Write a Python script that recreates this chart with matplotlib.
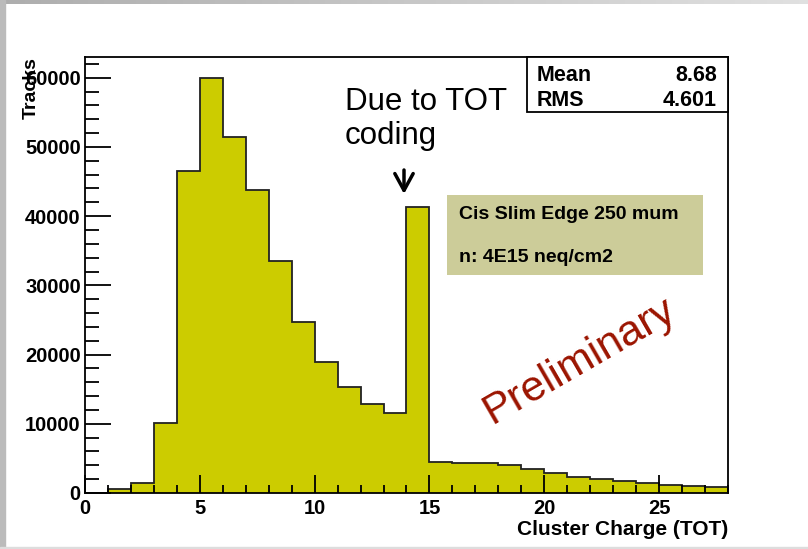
import numpy as np
import matplotlib
matplotlib.use("Agg")
import matplotlib.pyplot as plt
from matplotlib.ticker import MultipleLocator

# Cluster charge histogram, bins of width 1 TOT
bin_edges = list(range(0, 29))
counts = [0, 530, 1400, 10160, 46530, 60000, 51400, 43800, 33500, 24700,
          18900, 15300, 12860, 11560, 41300, 4520, 4290, 4380, 4050, 3420,
          2840, 2360, 2020, 1730, 1400, 1160, 1010, 820]

stat_names = ["Mean", "RMS"]
stat_values = ["8.68", "4.601"]
info_lines = ["Cis Slim Edge 250 mum", "n: 4E15 neq/cm2"]

fill_color = "#cccc00"
W, H = 808, 549

plt.rcParams["font.family"] = ["Liberation Sans", "DejaVu Sans"]

fig = plt.figure(figsize=(W / 100, H / 100), dpi=100)

# slide border (screenshot edges)
grad = np.linspace(0.68, 0.88, 256).reshape(1, -1)
bax = fig.add_axes([0, 1 - 4 / H, 1, 4 / H])
bax.imshow(np.dstack([grad] * 3), aspect="auto", extent=[0, 1, 0, 1])
bax.axis("off")
fig.patches.append(plt.Rectangle((0, 0), 5 / W, 1, transform=fig.transFigure,
                                 color="#bbbbbb", zorder=0))
fig.patches.append(plt.Rectangle((0, 0), 1, 2 / H, transform=fig.transFigure,
                                 color="#dddddd", zorder=0))

x0, x1, y0, y1 = 85, 728, 57, 493
ax = fig.add_axes([x0 / W, 1 - y1 / H, (x1 - x0) / W, (y1 - y0) / H])

ax.stairs(counts, bin_edges, fill=True, color=fill_color)
ax.stairs(counts, bin_edges, color="#222222", linewidth=1.3, baseline=0)

ax.set_xlim(0, 28)
ax.set_ylim(0, 63000)
ax.xaxis.set_major_locator(MultipleLocator(5))
ax.xaxis.set_minor_locator(MultipleLocator(1))
ax.yaxis.set_major_locator(MultipleLocator(10000))
ax.yaxis.set_minor_locator(MultipleLocator(2000))
ax.tick_params(axis="both", which="both", direction="in", top=False, right=False,
               width=1.3, labelsize=14.5)
ax.tick_params(axis="x", which="major", length=13, pad=4)
ax.tick_params(axis="x", which="minor", length=6)
ax.tick_params(axis="y", which="major", length=19, pad=3)
ax.tick_params(axis="y", which="minor", length=10)
for lab in ax.get_xticklabels() + ax.get_yticklabels():
    lab.set_fontweight("bold")
for sp in ax.spines.values():
    sp.set_linewidth(1.3)

fig.text(x1 / W, 1 - 535 / H, "Cluster Charge (TOT)", ha="right", va="baseline",
         fontsize=15, fontweight="bold")
fig.text(40 / W, 1 - 57 / H, "Tracks", ha="right", va="top", rotation=90,
         fontsize=14, fontweight="bold")

# stats box
sx0, sx1, sy0, sy1 = 527, 728, 57, 112
fig.patches.append(plt.Rectangle((sx0 / W, 1 - sy1 / H), (sx1 - sx0) / W,
                                 (sy1 - sy0) / H, transform=fig.transFigure,
                                 facecolor="white", edgecolor="black",
                                 linewidth=1.3, zorder=5))
for i, (n, v) in enumerate(zip(stat_names, stat_values)):
    yb = 1 - (81 + i * 25) / H
    fig.text(537 / W, yb, n, ha="left", va="baseline", fontsize=15.5,
             fontweight="bold", zorder=6)
    fig.text(717 / W, yb, v, ha="right", va="baseline", fontsize=15.5,
             fontweight="bold", zorder=6)

# info box
ix0, ix1, iy0, iy1 = 447, 703, 195, 275
fig.patches.append(plt.Rectangle((ix0 / W, 1 - iy1 / H), (ix1 - ix0) / W,
                                 (iy1 - iy0) / H, transform=fig.transFigure,
                                 facecolor="#cccc99", edgecolor="none", zorder=5))
for i, line in enumerate(info_lines):
    fig.text(459 / W, 1 - (219 + i * 43) / H, line, ha="left", va="baseline",
             fontsize=14, fontweight="bold", zorder=6)

# annotation
fig.text(345 / W, 1 - 110 / H, "Due to TOT", ha="left", va="baseline", fontsize=22.5)
fig.text(345 / W, 1 - 144 / H, "coding", ha="left", va="baseline", fontsize=22.5)
ax.annotate("", xy=(404 / W, 1 - 194 / H), xytext=(404 / W, 1 - 170 / H),
            xycoords="figure fraction", textcoords="figure fraction",
            arrowprops=dict(arrowstyle="->,head_length=0.55,head_width=0.3",
                            mutation_scale=22, color="black", lw=2.5,
                            shrinkA=0, shrinkB=0))

fig.text(492 / W, 1 - 424 / H, "Preliminary", ha="left", va="baseline",
         rotation=30, rotation_mode="anchor", fontsize=31, color="#9b1400")

fig.savefig("out.png", dpi=100)
